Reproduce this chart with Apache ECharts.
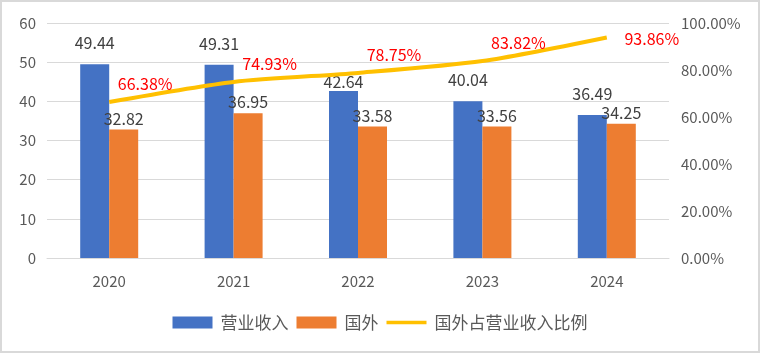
<!DOCTYPE html>
<html><head><meta charset="utf-8">
<script src="https://cdn.jsdelivr.net/npm/echarts@6/dist/echarts.min.js"></script>
<style>html,body{margin:0;padding:0;background:#fff}#c{width:760px;height:353px;box-sizing:border-box;border:2px solid #d9d9d9}</style>
</head><body><div id="c"></div>
<script>
const years = ['2020','2021','2022','2023','2024'];
const revenue = [49.44, 49.31, 42.64, 40.04, 36.49];
const overseas = [32.82, 36.95, 33.58, 33.56, 34.25];
const ratio = [66.38, 74.93, 78.75, 83.82, 93.86];
const leftTicks = [0, 60, 10];
const rightTicks = [0, 100, 20];

const chart = echarts.init(document.getElementById('c'));
const font = '"Noto Sans CJK SC", "Noto Sans", sans-serif';
chart.setOption({
  animation: false,
  textStyle: {fontFamily: font},
  grid: {left: 45, right: 89, top: 21, bottom: 93, containLabel: false},
  legend: {
    bottom: 15, left: 'center', itemGap: 8, itemWidth: 40, itemHeight: 12,
    textStyle: {fontSize: 17, color: '#595959', fontFamily: font, padding: [0, 0, 0, 3]},
    data: [{name: '营业收入', icon: 'rect'}, {name: '国外', icon: 'rect'},
           {name: '国外占营业收入比例', icon: 'path://M0,0H100V9H0Z', itemStyle: {color: '#FFC000', opacity: 1}}]
  },
  xAxis: {
    type: 'category', data: years,
    axisLine: {lineStyle: {color: '#d9d9d9', width: 1}},
    axisTick: {show: false},
    axisLabel: {color: '#595959', fontSize: 15, margin: 16, fontFamily: font}
  },
  yAxis: [
    {type: 'value', min: leftTicks[0], max: leftTicks[1], interval: leftTicks[2],
     axisLabel: {color: '#595959', fontSize: 15, margin: 11},
     splitLine: {lineStyle: {color: '#d9d9d9', width: 1}},
     axisLine: {show: false}, axisTick: {show: false}},
    {type: 'value', min: rightTicks[0], max: rightTicks[1], interval: rightTicks[2],
     axisLabel: {color: '#595959', fontSize: 15, margin: 12, formatter: v => v.toFixed(2) + '%'},
     splitLine: {show: false}, axisLine: {show: false}, axisTick: {show: false}}
  ],
  series: [
    {name: '营业收入', type: 'bar', barWidth: 29, barGap: '0%',
     itemStyle: {color: '#4472C4'},
     data: revenue.map((v, i) => i === 2 ? {value: v, label: {distance: 1}} : v),
     label: {show: true, position: 'top', distance: 13, color: '#404040', fontSize: 16, fontFamily: font}},
    {name: '国外', type: 'bar', barWidth: 29,
     itemStyle: {color: '#ED7D31'},
     data: overseas,
     label: {show: true, position: 'top', distance: 3, color: '#404040', fontSize: 16, fontFamily: font}},
    {name: '国外占营业收入比例', type: 'line', yAxisIndex: 1, data: ratio, smooth: 0.25,
     symbol: 'circle', symbolSize: 2, showSymbol: true, z: 5,
     lineStyle: {color: '#FFC000', width: 4}, itemStyle: {color: 'rgba(255,192,0,0)', borderWidth: 0},
     label: {show: true, position: 'top', distance: 5, color: '#FF0000', fontSize: 16,
       fontFamily: font, formatter: p => p.value.toFixed(2) + '%'},
     labelLayout: p => p.dataIndex === ratio.length - 1
       ? {hideOverlap: false, dx: 45, dy: 15}
       : {hideOverlap: false, dx: 36, dy: -4}}
  ]
});
</script></body></html>
